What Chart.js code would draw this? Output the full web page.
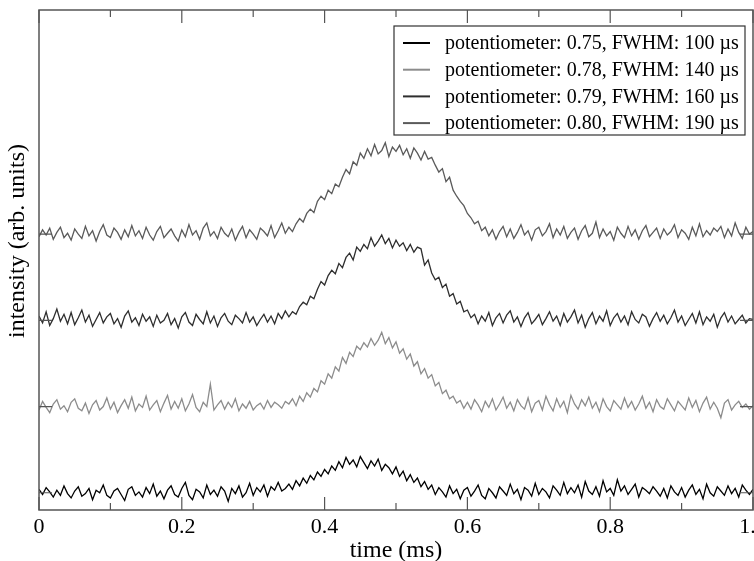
<!DOCTYPE html>
<html>
<head>
<meta charset="utf-8">
<script src="https://cdn.jsdelivr.net/npm/chart.js@4/dist/chart.umd.min.js"></script>
<style>
	html, body { margin: 0; padding: 0; background: #fff; }
</style>
</head>
<body>
<canvas id="pulseChart" width="754" height="561"></canvas>
<script>
// sample times in microseconds
const timeUs = [
	0,5,10,15,20,25,30,35,40,45,50,55,60,65,70,75,80,85,90,95,
	100,105,110,115,120,125,130,135,140,145,150,155,160,165,170,175,180,185,190,195,
	200,205,210,215,220,225,230,235,240,245,250,255,260,265,270,275,280,285,290,295,
	300,305,310,315,320,325,330,335,340,345,350,355,360,365,370,375,380,385,390,395,
	400,405,410,415,420,425,430,435,440,445,450,455,460,465,470,475,480,485,490,495,
	500,505,510,515,520,525,530,535,540,545,550,555,560,565,570,575,580,585,590,595,
	600,605,610,615,620,625,630,635,640,645,650,655,660,665,670,675,680,685,690,695,
	700,705,710,715,720,725,730,735,740,745,750,755,760,765,770,775,780,785,790,795,
	800,805,810,815,820,825,830,835,840,845,850,855,860,865,870,875,880,885,890,895,
	900,905,910,915,920,925,930,935,940,945,950,955,960,965,970,975,980,985,990,995,
	1000
];

const seriesLabels = [
	"potentiometer: 0.75, FWHM: 100 \u00b5s",
	"potentiometer: 0.78, FWHM: 140 \u00b5s",
	"potentiometer: 0.79, FWHM: 160 \u00b5s",
	"potentiometer: 0.80, FWHM: 190 \u00b5s",
];
const seriesColors = ["#000000", "#8c8c8c", "#2e2e2e", "#5a5a5a"];
// vertical offset of each trace (arb. units)
const seriesOffsets = [0, 1, 2, 3];

// intensities in hundredths of an arb. unit
const pot075 = [
	4,-2,6,1,-5,3,-3,8,-1,-6, 2,7,-4,-1,5,-8,3,0,9,-3,
	-6,2,5,-2,-9,4,7,-3,1,-5, 6,-1,10,-4,2,-7,3,8,-2,-5,
	5,12,-3,-8,4,1,-6,9,-2,3, -4,7,2,-10,5,-1,8,-5,0,11,
	-3,6,1,9,-4,7,3,12,2,5, 10,4,14,8,17,11,20,15,24,19,
	27,22,31,26,36,29,41,33,38,30, 42,35,28,37,31,39,26,33,29,22,
	30,19,25,14,21,12,17,7,13,4, 9,-2,6,1,-5,8,-1,4,-7,3,
	6,-4,2,9,-3,-7,5,0,-6,7, 2,-3,10,-1,4,-8,6,3,-4,11,
	-2,5,1,-6,8,3,-3,12,-1,6, 0,9,-5,13,2,-2,7,-4,14,1,
	5,-3,15,2,8,-2,4,10,-5,6, 3,-1,7,2,-4,5,-6,8,1,-3,
	6,-5,3,9,-2,4,-7,10,0,-4, 7,2,-3,8,-1,5,-5,9,3,-2,
	4
];
const pot078 = [
	-4,6,-1,-7,3,8,-3,1,-6,5, 9,-2,-5,4,-8,2,7,-4,0,10,
	-3,5,-7,1,8,-2,11,-5,3,-1, 12,-4,2,7,-6,4,13,-3,6,-2,
	9,-5,3,14,-1,-6,5,0,26,-4, 2,7,-3,5,-1,9,-5,3,-2,6,
	-4,1,4,-3,7,-1,5,2,-2,6, 3,9,1,12,6,16,11,21,17,30,
	26,38,33,46,41,57,50,63,58,70, 66,74,69,79,71,77,86,73,80,68,
	75,62,67,55,61,47,52,38,44,33, 37,24,28,15,19,9,12,4,7,-2,
	5,-3,8,2,-6,6,-1,9,-4,3, 11,-2,5,-5,8,1,-3,10,-6,4,
	7,-4,12,2,-5,9,-1,6,-7,13, 3,-3,8,1,11,-2,5,-6,9,0,
	-5,7,2,-3,10,-1,6,-4,3,12, -2,5,-6,8,0,-3,9,2,-5,6,
	1,-4,10,-1,7,-6,4,11,-3,5, -2,-13,4,8,-4,2,6,-1,3,-3,
	1
];
const pot079 = [
	5,-3,10,-6,2,13,-1,7,-4,9, -5,3,12,-2,6,-7,1,9,-3,4,
	8,-4,2,-8,5,11,-2,3,-6,7, -1,4,-7,6,-3,0,8,-5,2,-9,
	4,9,-2,-6,7,1,-4,10,-3,5, -7,3,8,-1,-5,6,2,-3,9,-2,
	4,-6,1,7,-2,5,-4,8,2,11, 4,10,7,16,21,18,28,25,36,45,
	41,52,58,54,66,61,73,78,70,85, 80,88,83,96,86,92,99,89,95,84,
	93,86,90,81,88,79,85,83,64,70, 55,47,50,38,42,28,31,19,22,10,
	12,3,7,-4,5,-1,9,-6,3,8, -3,6,11,-2,4,-7,3,9,-4,1,
	7,-5,2,10,-1,5,-6,8,-2,4, 12,-3,6,-8,2,9,-4,5,-1,11,
	-6,3,8,-2,5,-5,10,1,-3,7, 4,-7,2,9,-1,6,-4,3,12,-2,
	5,-6,1,8,-3,10,-5,4,-1,7, -8,3,9,-2,5,-4,1,6,-3,2,
	1
];
const pot080 = [
	-3,5,-1,7,-6,2,8,-4,1,-7, 6,0,-5,9,-2,4,-8,3,11,-1,
	-4,7,2,-6,5,-3,10,-2,4,-5, 8,-1,-7,3,9,-4,1,6,-2,-8,
	5,-3,11,-1,4,-6,7,13,-2,3, -5,8,1,-3,6,-7,2,9,-4,5,
	0,-6,7,3,-2,10,-4,4,13,1, 8,3,12,18,14,24,29,25,38,44,
	40,51,47,58,55,66,75,70,84,80, 94,88,99,91,104,93,97,106,90,101,
	96,103,92,99,88,100,94,86,96,87, 89,80,72,76,61,66,51,44,38,33,
	24,19,12,15,4,8,-2,5,-6,3, 9,-3,6,-5,2,11,-1,4,-7,5,
	8,-2,3,12,-4,6,-1,9,-5,2, 7,-6,4,10,-3,1,14,-4,6,-2,
	3,-7,8,1,-4,9,-2,5,-6,4, 10,-3,2,7,-5,6,-1,3,11,-4,
	5,1,-6,8,-2,12,-3,4,-1,7, 3,9,-4,6,-2,13,2,-5,8,0,
	3
];
const seriesValues = [pot075, pot078, pot079, pot080];

const majorTicks = [0, 0.2, 0.4, 0.6, 0.8, 1];
const minorTicks = [0.1, 0.3, 0.5, 0.7, 0.9];

const serif = "'Liberation Serif', 'DejaVu Serif', serif";
const frameColor = "#555555";

const buildDataset = (values, idx) => ({
	label: seriesLabels[idx],
	data: values.map((v, i) => ({ x: timeUs[i] / 1000, y: seriesOffsets[idx] + v / 100 })),
	borderColor: seriesColors[idx],
	borderWidth: 1.3,
	pointRadius: 0,
	tension: 0,
	fill: false,
});

const framePlugin = {
	id: "frameAndLegend",
	afterDatasetsDraw: (chart) => {
		const ctx = chart.ctx;
		const area = chart.chartArea;
		const xs = chart.scales.x;
		const ys = chart.scales.y;
		ctx.save();

		// frame
		ctx.strokeStyle = frameColor;
		ctx.lineWidth = 1.5;
		ctx.strokeRect(area.left, area.top, area.right - area.left, area.bottom - area.top);

		// inward ticks
		ctx.lineWidth = 1.2;
		const tickX = (value, len) => {
			const px = xs.getPixelForValue(value);
			ctx.beginPath();
			ctx.moveTo(px, area.bottom);
			ctx.lineTo(px, area.bottom - len);
			ctx.moveTo(px, area.top);
			ctx.lineTo(px, area.top + len);
			ctx.stroke();
		};
		majorTicks.forEach((v) => tickX(v, 13));
		minorTicks.forEach((v) => tickX(v, 7));
		seriesOffsets.forEach((v) => {
			const py = ys.getPixelForValue(v);
			ctx.beginPath();
			ctx.moveTo(area.left, py);
			ctx.lineTo(area.left + 13, py);
			ctx.moveTo(area.right, py);
			ctx.lineTo(area.right - 13, py);
			ctx.stroke();
		});

		// legend box
		const box = { left: 394, top: 26, width: 351, height: 109 };
		ctx.fillStyle = "#ffffff";
		ctx.fillRect(box.left, box.top, box.width, box.height);
		ctx.strokeStyle = "#333333";
		ctx.lineWidth = 1.2;
		ctx.strokeRect(box.left, box.top, box.width, box.height);
		ctx.font = "20px " + serif;
		ctx.textBaseline = "middle";
		ctx.textAlign = "left";
		chart.data.datasets.forEach((ds, i) => {
			const y = box.top + 17 + i * 26.7;
			ctx.strokeStyle = ds.borderColor;
			ctx.lineWidth = 2;
			ctx.beginPath();
			ctx.moveTo(403, y);
			ctx.lineTo(430, y);
			ctx.stroke();
			ctx.fillStyle = "#000000";
			ctx.fillText(ds.label, 445, y + 1);
		});

		// y axis title, its lower end sits at y = 338
		ctx.font = "24px " + serif;
		const titleText = "intensity (arb. units)";
		const titleLen = ctx.measureText(titleText).width;
		ctx.translate(18, 338 - titleLen / 2);
		ctx.rotate(-Math.PI / 2);
		ctx.textAlign = "center";
		ctx.fillText(titleText, 0, 0);
		ctx.restore();
	},
};

document.addEventListener("DOMContentLoaded", () => {
	const ctx = document.getElementById("pulseChart").getContext("2d");
	new Chart(ctx, {
		type: "line",
		data: {
			datasets: seriesValues.map(buildDataset),
		},
		options: {
			responsive: false,
			animation: false,
			devicePixelRatio: 1,
			layout: { padding: { top: 10, right: 1, left: 0, bottom: 0 } },
			plugins: {
				legend: { display: false },
				tooltip: { enabled: false },
			},
			scales: {
				x: {
					type: "linear",
					min: 0,
					max: 1,
					grid: { display: false, drawTicks: false },
					border: { display: false },
					ticks: {
						stepSize: 0.2,
						padding: 4,
						color: "#000",
						font: { family: serif, size: 22 },
						maxRotation: 0,
					},
					title: {
						display: true,
						text: "time (ms)",
						color: "#000",
						font: { family: serif, size: 24, lineHeight: 1 },
						padding: { top: 0, bottom: -2 },
					},
					afterFit: (scale) => {
						scale.height = 51;
						scale.paddingLeft = 0;
						scale.paddingRight = 0;
					},
				},
				y: {
					min: -0.2,
					max: 5.6,
					grid: { display: false, drawTicks: false },
					border: { display: false },
					ticks: { display: false },
					afterFit: (scale) => {
						scale.width = 39;
					},
				},
			},
		},
		plugins: [framePlugin],
	});
});
</script>
</body>
</html>
